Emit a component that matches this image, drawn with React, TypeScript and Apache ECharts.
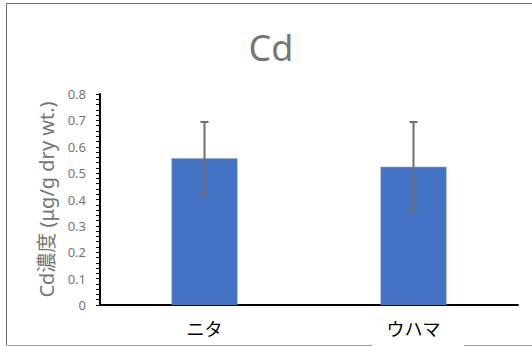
import React, { useEffect, useRef } from "react";
import * as echarts from "echarts";

// Sampling sites and their Cd concentration (mean ± SD, µg/g dry wt.)
const categories = ["ニタ", "ウハマ"];
const means = [0.556, 0.524];
const errors = [0.138, 0.17];
const yTicks = { min: 0, max: 0.8, interval: 0.1 };

export default function App() {
  const ref = useRef<HTMLDivElement>(null);

  useEffect(() => {
    if (!ref.current) return;
    const chart = echarts.init(ref.current, null, { renderer: "svg" });
    const font = "'Noto Sans', 'Noto Sans CJK JP', sans-serif";

    const errorData = means.map((m, i) => [i, m - errors[i], m + errors[i]]);

    chart.setOption({
      animation: false,
      backgroundColor: "#ffffff",
      title: {
        text: "Cd",
        left: 266,
        top: 24,
        textAlign: "center",
        textStyle: { fontFamily: font, fontSize: 36, fontWeight: "normal", color: "#757575" },
      },
      graphic: [
        { type: "line", shape: { x1: 6.5, y1: 3.5, x2: 532, y2: 3.5 }, style: { stroke: "#6b6b6b", lineWidth: 1 } },
        { type: "line", shape: { x1: 6.5, y1: 3.5, x2: 6.5, y2: 345.5 }, style: { stroke: "#6b6b6b", lineWidth: 1 } },
        { type: "line", shape: { x1: 6.5, y1: 345.5, x2: 372, y2: 345.5 }, style: { stroke: "#9a9a9a", lineWidth: 1 } },
        { type: "line", shape: { x1: 464, y1: 345.5, x2: 532, y2: 345.5 }, style: { stroke: "#9a9a9a", lineWidth: 1 } },
      ],
      grid: { left: 100, right: 14, top: 94, bottom: 41, containLabel: false },
      xAxis: {
        type: "category",
        data: categories,
        axisLine: { lineStyle: { color: "#000000", width: 2 } },
        axisTick: { show: false },
        axisLabel: { color: "#000000", fontSize: 18, fontFamily: font, margin: 15 },
      },
      yAxis: {
        type: "value",
        min: yTicks.min,
        max: yTicks.max,
        interval: yTicks.interval,
        name: "Cd濃度 (μg/g dry wt.)",
        nameLocation: "middle",
        nameGap: 43,
        nameTextStyle: { color: "#757575", fontSize: 20, fontFamily: font },
        axisLine: { show: true, lineStyle: { color: "#000000", width: 2 } },
        axisTick: { show: true, length: 4, lineStyle: { color: "#000000", width: 1 } },
        minorTick: { show: true, splitNumber: 5, length: 4, lineStyle: { color: "#000000", width: 1 } },
        splitLine: { show: false },
        axisLabel: {
          color: "#757575",
          fontSize: 13,
          fontFamily: font,
          margin: 14,
          formatter: (v: number) => (v === 0 ? "0" : v.toFixed(1)),
        },
      },
      series: [
        {
          type: "bar",
          data: means,
          barWidth: 66,
          itemStyle: { color: "#4472C4", borderColor: "#7f9fd6", borderWidth: 0.5 },
        },
        {
          type: "custom",
          data: errorData,
          z: 10,
          renderItem: (params: any, api: any) => {
            const x = api.value(0);
            const lo = api.coord([x, api.value(1)]);
            const hi = api.coord([x, api.value(2)]);
            const cap = 4;
            const style = { stroke: "#6e6e6e", lineWidth: 2 };
            return {
              type: "group",
              children: [
                { type: "line", shape: { x1: hi[0], y1: hi[1], x2: lo[0], y2: lo[1] }, style },
                { type: "line", shape: { x1: hi[0] - cap, y1: hi[1], x2: hi[0] + cap, y2: hi[1] }, style },
                { type: "line", shape: { x1: lo[0] - cap, y1: lo[1], x2: lo[0] + cap, y2: lo[1] }, style },
              ],
            };
          },
        },
      ],
    });

    return () => chart.dispose();
  }, []);

  return <div ref={ref} style={{ width: 532, height: 346, position: "absolute", left: 0, top: 0 }} />;
}
